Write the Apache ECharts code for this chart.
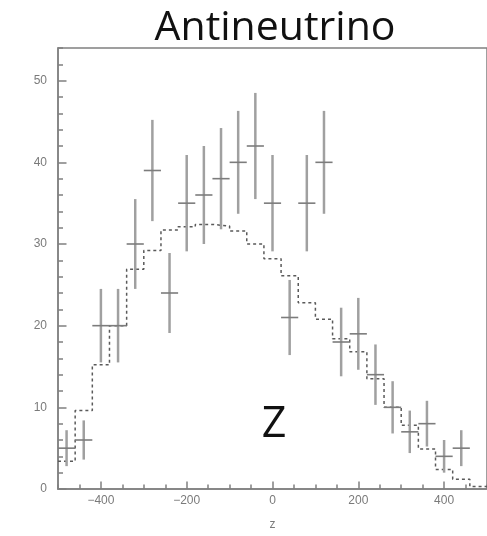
<!DOCTYPE html>
<html>
<head>
<meta charset="utf-8">
<script src="https://cdn.jsdelivr.net/npm/echarts@6/dist/echarts.min.js"></script>
<style>
  html, body { margin: 0; padding: 0; background: #fff; }
  #chart { width: 487px; height: 536px; }
</style>
</head>
<body>
<div id="chart"></div>
<script>
// Measured antineutrino events per 40-unit z bin (centres) with their errors
const binCenters = [-480, -440, -400, -360, -320, -280, -240, -200, -160, -120, -80, -40,
                    0, 40, 80, 120, 160, 200, 240, 280, 320, 360, 400, 440];
const counts = [5, 6, 20, 20, 30, 39, 24, 35, 36, 38, 40, 42,
                35, 21, 35, 40, 18, 19, 14, 10, 7, 8, 4, 5];
const errors = [2.2, 2.4, 4.5, 4.5, 5.5, 6.2, 4.9, 5.9, 6.0, 6.2, 6.3, 6.5,
                5.9, 4.6, 5.9, 6.3, 4.2, 4.4, 3.7, 3.2, 2.6, 2.8, 2.0, 2.2];
const binHalfWidth = 20;

// Expected distribution: left edges of 40-unit bins and bin contents
const mcEdges = [-500, -460, -420, -380, -340, -300, -260, -220, -180, -140, -100, -60,
                 -20, 20, 60, 100, 140, 180, 220, 260, 300, 340, 380, 420, 460];
const mcValues = [3.4, 9.6, 15.2, 20.0, 26.9, 29.2, 31.7, 32.1, 32.4, 32.2, 31.6, 30.0,
                  28.2, 26.1, 22.8, 20.8, 18.4, 16.8, 13.5, 10.0, 7.8, 4.9, 2.4, 1.2, 0.3];
const mcUpperEdge = 500;

// Axis ticks
const xLabelTicks = [-400, -200, 0, 200, 400];
const yLabelTicks = [0, 10, 20, 30, 40, 50];

const titleText = 'Antineutrino';
const panelText = 'Z';
const xName = 'z';

const axisGray = '#808080';
const labelGray = '#7a7a7a';

const chart = echarts.init(document.getElementById('chart'), null, { renderer: 'canvas' });

const histData = mcEdges.map((e, i) => [e, mcValues[i]]);
histData.push([mcUpperEdge, mcValues[mcValues.length - 1]]);

const pointData = binCenters.map((c, i) => [c, counts[i], errors[i]]);

const fmtMinus = v => String(v).replace('-', '\u2212');

chart.setOption({
  animation: false,
  backgroundColor: '#ffffff',
  grid: {
    left: 58, top: 48, width: 439, height: 442,
    show: true, borderColor: axisGray, borderWidth: 1.5, backgroundColor: 'transparent'
  },
  xAxis: [
    {
      // fine ticks every 50, carries the data
      type: 'value', min: -500, max: 500, interval: 50,
      name: xName, nameLocation: 'middle', nameGap: 30,
      nameTextStyle: { color: labelGray, fontSize: 12, fontFamily: 'Liberation Sans' },
      axisLine: { show: true, onZero: false, lineStyle: { color: axisGray, width: 1.5 } },
      axisTick: { show: true, inside: true, length: 4.5, lineStyle: { color: axisGray, width: 1.5 } },
      axisLabel: { show: true, customValues: xLabelTicks, margin: 6, color: labelGray,
                   fontSize: 12, fontFamily: 'Liberation Sans', formatter: fmtMinus },
      splitLine: { show: false }
    },
    {
      // longer ticks at the labelled values
      type: 'value', min: -500, max: 500, position: 'bottom',
      axisLine: { show: false, onZero: false },
      axisTick: { show: true, inside: true, length: 7.5, customValues: xLabelTicks,
                  lineStyle: { color: axisGray, width: 1.5 } },
      axisLabel: { show: false },
      splitLine: { show: false }
    }
  ],
  yAxis: [
    {
      // fine ticks every 2, carries the data
      type: 'value', min: 0, max: 54, interval: 2,
      axisLine: { show: true, onZero: false, lineStyle: { color: axisGray, width: 1.5 } },
      axisTick: { show: true, inside: true, length: 5, lineStyle: { color: axisGray, width: 1.5 } },
      axisLabel: { show: true, customValues: yLabelTicks, margin: 11, color: labelGray,
                   fontSize: 12, fontFamily: 'Liberation Sans' },
      splitLine: { show: false }
    },
    {
      // longer ticks at the labelled values
      type: 'value', min: 0, max: 54, position: 'left',
      axisLine: { show: false, onZero: false },
      axisTick: { show: true, inside: true, length: 8.5, customValues: yLabelTicks,
                  lineStyle: { color: axisGray, width: 1.5 } },
      axisLabel: { show: false },
      splitLine: { show: false }
    }
  ],
  series: [
    {
      type: 'line',
      xAxisIndex: 0, yAxisIndex: 0,
      step: 'end',
      data: histData,
      symbol: 'none',
      lineStyle: { color: '#5a5a5a', width: 1.5, type: [3, 3] },
      z: 2
    },
    {
      type: 'custom',
      xAxisIndex: 0, yAxisIndex: 0,
      data: pointData,
      renderItem: function (params, api) {
        const x = api.value(0), y = api.value(1), e = api.value(2);
        const top = api.coord([x, y + e]);
        const bot = api.coord([x, y - e]);
        const left = api.coord([x - binHalfWidth, y]);
        const right = api.coord([x + binHalfWidth, y]);
        return {
          type: 'group',
          children: [
            { type: 'line', shape: { x1: top[0], y1: top[1], x2: bot[0], y2: bot[1] },
              style: { stroke: '#a0a0a0', lineWidth: 2.5 } },
            { type: 'line', shape: { x1: left[0], y1: left[1], x2: right[0], y2: right[1] },
              style: { stroke: '#7c7c7c', lineWidth: 1.6 } }
          ]
        };
      },
      z: 3
    }
  ],
  graphic: [
    { type: 'text', x: 275, y: 28.5,
      style: { text: titleText, x: 0, y: 0, align: 'center', verticalAlign: 'middle',
               font: '41px "Open Sans"', fill: '#111' } },
    { type: 'text', x: 274, y: 425,
      style: { text: panelText, x: 0, y: 0, align: 'center', verticalAlign: 'middle',
               font: '43px "Open Sans"', fill: '#111' } }
  ]
});
</script>
</body>
</html>
